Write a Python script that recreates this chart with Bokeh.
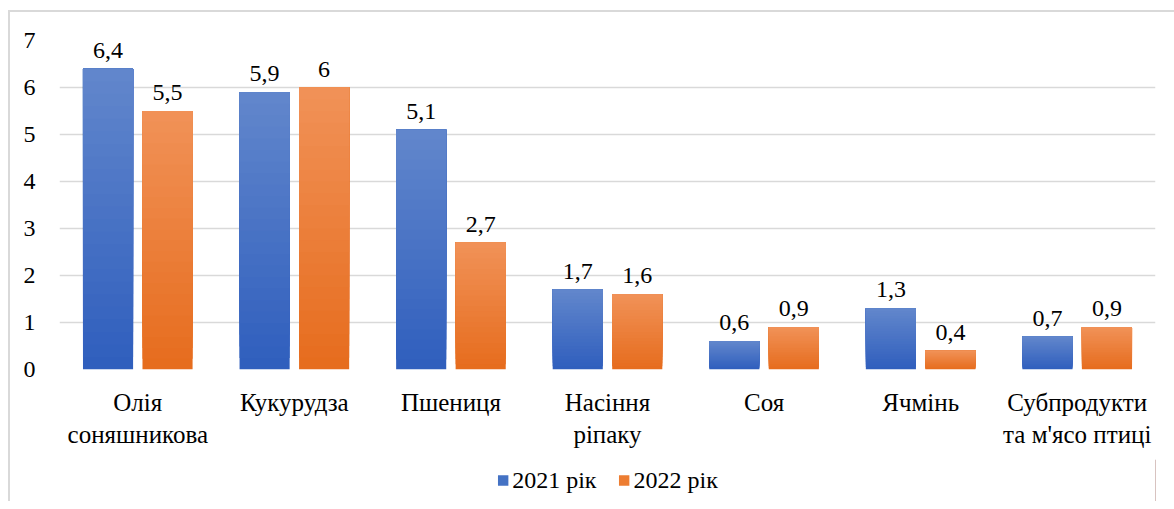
from bokeh.plotting import figure
from bokeh.layouts import column
from bokeh.models import ColumnDataSource, Legend, LegendItem, FixedTicker, Range1d
from bokeh.transform import dodge
from bokeh.core.properties import value
from bokeh.embed import file_html
from bokeh.resources import INLINE

categories = ["Олія\nсоняшникова", "Кукурудза", "Пшениця", "Насіння\nріпаку",
              "Соя", "Ячмінь", "Субпродукти\nта м'ясо птиці"]
v2021 = [6.4, 5.9, 5.1, 1.7, 0.6, 1.3, 0.7]
v2022 = [5.5, 6.0, 2.7, 1.6, 0.9, 0.4, 0.9]
series_names = ["2021 рік", "2022 рік"]
y_ticks = [0, 1, 2, 3, 4, 5, 6, 7]

FONT = "Times New Roman"
BLUE = "#4472c4"
ORANGE = "#ed7d31"
BLUE_GRAD = ((0x2f, 0x5e, 0xbd), (0x62, 0x87, 0xcc))    # bottom -> top
ORANGE_GRAD = ((0xe6, 0x6c, 0x1d), (0xf1, 0x92, 0x58))
N_SLICES = 24


def fmt(v):
    return ("%g" % v).replace(".", ",")


def build_slices(vals, grad):
    # each slice spans from a fraction of the bar up to its top; later slices
    # overlay earlier ones, producing a seamless vertical gradient
    (r0, g0, b0), (r1, g1, b1) = grad
    d = dict(cat=[], bottom=[], top=[], color=[])
    for c, v in zip(categories, vals):
        for k in range(N_SLICES):
            t = (k + 0.5) / N_SLICES
            d["cat"].append(c)
            d["bottom"].append(v * k / N_SLICES)
            d["top"].append(v)
            d["color"].append("#%02x%02x%02x" % (round(r0 + (r1 - r0) * t),
                                                  round(g0 + (g1 - g0) * t),
                                                  round(b0 + (b1 - b0) * t)))
    return ColumnDataSource(d)


src = ColumnDataSource(dict(
    cat=categories, v2021=v2021, v2022=v2022,
    l2021=[fmt(v) for v in v2021], l2022=[fmt(v) for v in v2022],
))

p = figure(x_range=categories, y_range=Range1d(0, 7), width=1164, height=443,
           output_backend="svg", toolbar_location=None,
           min_border_left=49, min_border_right=19, min_border_top=28, min_border_bottom=86)
p.outline_line_color = None
p.border_fill_color = "white"

p.ygrid.grid_line_color = "#d9d9d9"
p.ygrid.grid_line_width = 1.5
p.xgrid.grid_line_color = None

for vals, grad, off in ((v2021, BLUE_GRAD, -0.19), (v2022, ORANGE_GRAD, 0.19)):
    s = build_slices(vals, grad)
    p.vbar(x=dodge("cat", off, range=p.x_range), bottom="bottom", top="top", width=0.32,
           source=s, fill_color="color", line_color=None)

p.text(x=dodge("cat", -0.19, range=p.x_range), y="v2021", text="l2021", source=src,
       text_font=value(FONT), text_font_size="24px", text_align="center",
       text_baseline="bottom", y_offset=-11, text_color="#000000")
p.text(x=dodge("cat", 0.19, range=p.x_range), y="v2022", text="l2022", source=src,
       text_font=value(FONT), text_font_size="24px", text_align="center",
       text_baseline="bottom", y_offset=-11, text_color="#000000")

p.yaxis.ticker = FixedTicker(ticks=y_ticks)
for ax in (p.xaxis, p.yaxis):
    ax.axis_line_color = None
    ax.major_tick_line_color = None
    ax.minor_tick_line_color = None
    ax.major_label_text_font = FONT
    ax.major_label_text_color = "#000000"
p.yaxis.major_label_text_font_size = "24px"
p.xaxis.major_label_text_font_size = "25px"
p.yaxis.major_label_standoff = 18
p.xaxis.major_label_standoff = 13

# legend strip below the chart
q = figure(x_range=Range1d(0, 1), y_range=Range1d(0, 1), width=1164, height=46,
           output_backend="svg", toolbar_location=None,
           min_border_left=26, min_border_right=0, min_border_top=4, min_border_bottom=0)
q.axis.visible = False
q.grid.visible = False
q.outline_line_color = None
q.border_fill_color = "white"
lr1 = q.vbar(x=[5], top=[5], width=0.1, fill_color=BLUE, line_color=None)
lr2 = q.vbar(x=[5], top=[5], width=0.1, fill_color=ORANGE, line_color=None)
legend = Legend(items=[LegendItem(label=series_names[0], renderers=[lr1]),
                       LegendItem(label=series_names[1], renderers=[lr2])],
                orientation="horizontal", location="center",
                label_text_font=FONT, label_text_font_size="24px",
                label_text_color="#000000",
                glyph_width=13, glyph_height=13, spacing=21, label_standoff=3,
                border_line_color=None, background_fill_alpha=0, padding=0, margin=0)
q.add_layout(legend, "center")

layout = column(p, q, spacing=0)
layout.margin = (10, 0, 0, 8)
layout.styles = {"border-top": "2px solid #d9d9d9", "border-left": "2px solid #d9d9d9"}

open("out.html", "w").write(file_html(layout, INLINE))
